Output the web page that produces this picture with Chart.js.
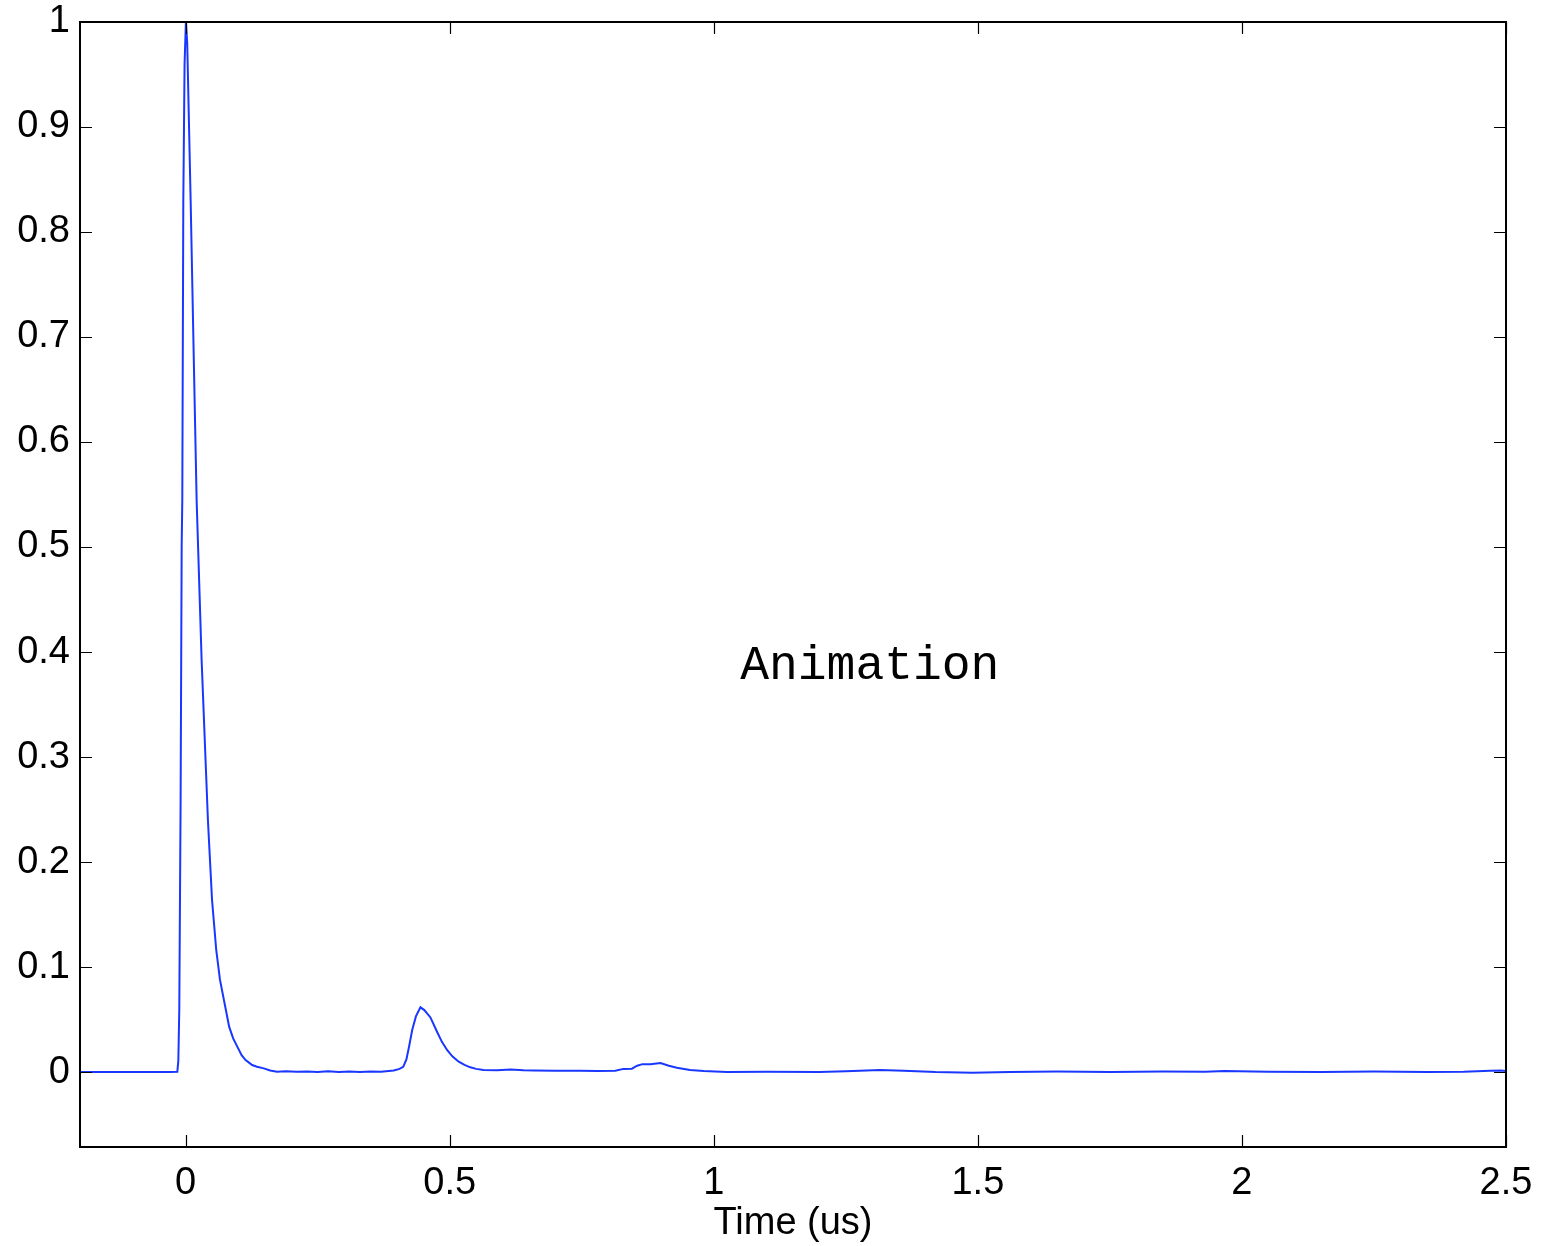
<!DOCTYPE html>
<html>
<head>
<meta charset="utf-8">
<script src="https://cdn.jsdelivr.net/npm/chart.js@4.4.1/dist/chart.umd.min.js"></script>
<style>
    html, body { margin: 0; padding: 0; background: #fff; }
    #wrap { width: 1543px; height: 1246px; }
</style>
</head>
<body>
<div id="wrap"><canvas id="chart" width="1543" height="1246"></canvas></div>
<script>
// time axis (us) and normalised signal
const times = [
    -0.2, -0.1, -0.03, -0.0157, -0.0138, -0.012, -0.0095, -0.0075, -0.0063, -0.0044, -0.002, 0.0005,
    0.003, 0.0095, 0.015, 0.0208, 0.0303, 0.0422, 0.05, 0.058, 0.065, 0.0725, 0.0825, 0.09, 0.098,
    0.106, 0.1135, 0.12, 0.126, 0.135, 0.148, 0.16, 0.173, 0.19, 0.21, 0.23, 0.25, 0.27, 0.29, 0.31,
    0.33, 0.35, 0.37, 0.394, 0.405, 0.412, 0.418, 0.423, 0.429, 0.436, 0.4446, 0.452, 0.4635, 0.476,
    0.485, 0.495, 0.505, 0.517, 0.528, 0.539, 0.55, 0.564, 0.59, 0.615, 0.64, 0.66, 0.7, 0.747, 0.78,
    0.8135, 0.829, 0.845, 0.855, 0.865, 0.88, 0.899, 0.915, 0.93, 0.955, 0.981, 1.025, 1.1, 1.2, 1.25,
    1.315, 1.36, 1.42, 1.49, 1.56, 1.65, 1.75, 1.85, 1.93, 1.967, 2.05, 2.15, 2.25, 2.35, 2.42, 2.47,
    2.49, 2.5
];
const signal = [
    0, 0, 0, 0.0003, 0.011, 0.06, 0.259, 0.5, 0.545, 0.83, 0.96, 1.0,
    0.98, 0.83, 0.69, 0.545, 0.392, 0.24, 0.164, 0.116, 0.088, 0.0686, 0.043, 0.032, 0.024,
    0.016, 0.0114, 0.009, 0.0067, 0.005, 0.0035, 0.0015, 0.0003, 0.0008, 0.0002, 0.0006, 0.0, 0.0007, 0.0001, 0.0004,
    0.0, 0.0005, 0.0002, 0.0015, 0.003, 0.005, 0.012, 0.024, 0.04, 0.053, 0.0616, 0.059, 0.052, 0.0384,
    0.029, 0.021, 0.015, 0.0098, 0.0068, 0.0045, 0.003, 0.002, 0.0018, 0.0025, 0.0018, 0.0015, 0.0012, 0.0012, 0.001,
    0.0012, 0.003, 0.0032, 0.006, 0.0075, 0.0073, 0.0085, 0.006, 0.004, 0.002, 0.001, 0.0, 0.0002, 0.0, 0.0008,
    0.002, 0.0012, 0.0, -0.0006, 0.0, 0.0004, 0.0, 0.0006, 0.0002, 0.001, 0.0003, 0.0, 0.0005, 0.0, 0.0002, 0.0012,
    0.0015, 0.001
];
const xTicks = [0, 0.5, 1, 1.5, 2, 2.5];
const yTicks = [0, 0.1, 0.2, 0.3, 0.4, 0.5, 0.6, 0.7, 0.8, 0.9, 1];
const xLimits = [-0.2, 2.5];
const yLimits = [-0.0714, 1];
const note = { text: 'Animation', x: 1.05, y: 0.374 };

const tickFont = { family: "'Liberation Sans', Arial, Helvetica, sans-serif", size: 38 };

// box round the plot with short inward ticks on every side
const framePlugin = {
    id: 'frame',
    afterDatasetsDraw(chart) {
        const ctx = chart.ctx;
        const a = chart.chartArea;
        const xs = chart.scales.x, ys = chart.scales.y;
        const len = 12;
        ctx.save();
        ctx.strokeStyle = '#000';
        ctx.lineWidth = 1.2;
        ctx.beginPath();
        xTicks.forEach(v => {
            const px = Math.round(xs.getPixelForValue(v)) + 0.5;
            ctx.moveTo(px, a.bottom); ctx.lineTo(px, a.bottom - len);
            ctx.moveTo(px, a.top); ctx.lineTo(px, a.top + len);
        });
        yTicks.forEach(v => {
            const py = Math.round(ys.getPixelForValue(v)) + 0.5;
            ctx.moveTo(a.left, py); ctx.lineTo(a.left + len, py);
            ctx.moveTo(a.right, py); ctx.lineTo(a.right - len, py);
        });
        ctx.stroke();
        ctx.lineWidth = 2;
        ctx.strokeRect(a.left, a.top, a.right - a.left, a.bottom - a.top);

        ctx.fillStyle = '#000';
        ctx.font = "48px 'Liberation Mono', 'Courier New', monospace";
        ctx.textBaseline = 'alphabetic';
        ctx.textAlign = 'left';
        ctx.fillText(note.text, xs.getPixelForValue(note.x), ys.getPixelForValue(note.y));
        ctx.restore();
    }
};

const points = times.map((t, i) => ({ x: t, y: signal[i] }));

new Chart(document.getElementById('chart').getContext('2d'), {
    type: 'line',
    data: {
        datasets: [{
            data: points,
            borderColor: 'rgb(25, 55, 255)',
            borderWidth: 2,
            pointRadius: 0,
            tension: 0,
            fill: false
        }]
    },
    options: {
        responsive: false,
        animation: false,
        layout: { padding: { top: 22, right: 37, left: 0, bottom: 0 } },
        plugins: { legend: { display: false }, tooltip: { enabled: false } },
        scales: {
            x: {
                type: 'linear',
                min: xLimits[0],
                max: xLimits[1],
                grid: { display: false },
                border: { display: false },
                afterBuildTicks: s => { s.ticks = xTicks.map(v => ({ value: v })); },
                afterFit: s => { s.height = 99; s.paddingLeft = 0; s.paddingRight = 0; },
                ticks: {
                    color: '#000',
                    font: tickFont,
                    padding: 6,
                    maxRotation: 0,
                    callback: v => String(v)
                },
                title: {
                    display: true,
                    text: 'Time (us)',
                    color: '#000',
                    font: tickFont,
                    padding: { top: 0, bottom: 0 }
                }
            },
            y: {
                type: 'linear',
                min: yLimits[0],
                max: yLimits[1],
                grid: { display: false },
                border: { display: false },
                afterBuildTicks: s => { s.ticks = yTicks.map(v => ({ value: v })); },
                afterFit: s => { s.width = 80; s.paddingTop = 0; s.paddingBottom = 0; },
                ticks: {
                    color: '#000',
                    font: tickFont,
                    padding: 2,
                    callback: v => String(v)
                }
            }
        }
    },
    plugins: [framePlugin]
});
</script>
</body>
</html>
